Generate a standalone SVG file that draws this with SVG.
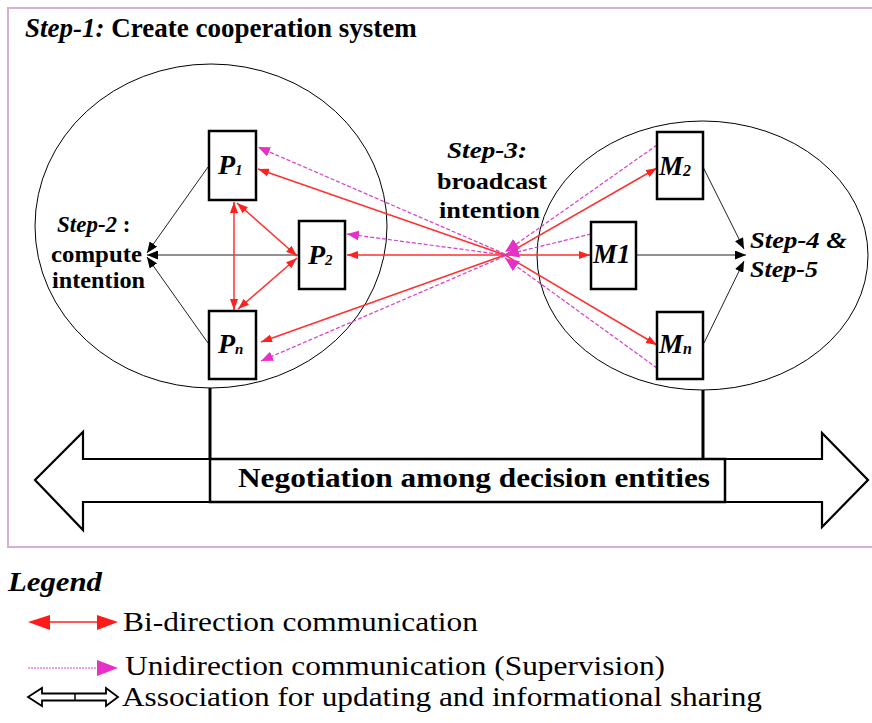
<svg xmlns="http://www.w3.org/2000/svg" width="872" height="723" viewBox="0 0 872 723">
<defs>
<style>
text{font-family:'Liberation Serif','Times New Roman','DejaVu Serif',serif;fill:#000}
.b{font-weight:bold}
.bi{font-weight:bold;font-style:italic}
.box{fill:#fff;stroke:#000;stroke-width:2.5}
.ell{fill:none;stroke:#000;stroke-width:1}
.blk{stroke:#222;stroke-width:1;fill:none}
.red{stroke:#ff3030;stroke-width:1.5;fill:none}
.mag{stroke:#d83cc8;stroke-width:1.2;stroke-dasharray:4 2;fill:none}
</style>
<marker id="rh" markerUnits="userSpaceOnUse" markerWidth="11" markerHeight="8" refX="11" refY="4" orient="auto-start-reverse"><path d="M0,0 L11,4 L0,8 z" fill="#ff2020"/></marker>
<marker id="mh" markerUnits="userSpaceOnUse" markerWidth="12" markerHeight="10" refX="12" refY="5" orient="auto"><path d="M0,0 L12,5 L0,10 z" fill="#e630c8"/></marker>
<marker id="mh2" markerUnits="userSpaceOnUse" markerWidth="14" markerHeight="12" refX="14" refY="6" orient="auto"><path d="M0,0 L14,6 L0,12 z" fill="#e630c8"/></marker>
<marker id="bh" markerUnits="userSpaceOnUse" markerWidth="11" markerHeight="9" refX="11" refY="4.5" orient="auto"><path d="M0,0 L11,4.5 L0,9 z" fill="#000"/></marker>
</defs>
<rect x="0" y="0" width="872" height="723" fill="#fff"/>
<rect id="frame" x="8" y="8" width="880" height="539" fill="none" stroke="#d4b0d4" stroke-width="2"/>
<g font-family="Liberation Serif, Times New Roman, serif">
<text x="25" y="37" font-size="27"><tspan class="bi">Step-1:</tspan><tspan class="b"> Create cooperation system</tspan></text>

<g id="groupP">
<ellipse class="ell" cx="211" cy="226" rx="176" ry="162"/>
</g>
<g id="groupM">
<ellipse class="ell" cx="702.5" cy="255.5" rx="165.5" ry="134.5"/>
</g>

<g id="connectors">
<path class="blk" d="M208,167 L147,253" marker-end="url(#bh)"/>
<path class="blk" d="M299,255 L147,255" marker-end="url(#bh)"/>
<path class="blk" d="M208,343 L147,257" marker-end="url(#bh)"/>
<path class="blk" d="M703,167 L744,249" marker-end="url(#bh)"/>
<path class="blk" d="M636,255 L746,255" marker-end="url(#bh)"/>
<path class="blk" d="M704,343 L744,261" marker-end="url(#bh)"/>
<path class="red" d="M234,202 L234,310" marker-start="url(#rh)" marker-end="url(#rh)"/>
<path class="red" d="M237,203 L297,256" marker-start="url(#rh)" marker-end="url(#rh)"/>
<path class="red" d="M297,258 L238,309" marker-start="url(#rh)" marker-end="url(#rh)"/>
<path class="red" d="M505,255 L258,169" marker-end="url(#rh)"/>
<path class="red" d="M505,255 L347,255" marker-end="url(#rh)"/>
<path class="red" d="M505,255 L261,342" marker-end="url(#rh)"/>
<path class="red" d="M505,255 L657,168" marker-end="url(#rh)"/>
<path class="red" d="M505,255 L590,255" marker-end="url(#rh)"/>
<path class="red" d="M505,255 L657,345" marker-end="url(#rh)"/>
<path class="mag" d="M505,254 L258,147" marker-end="url(#mh)"/>
<path class="mag" d="M505,255 L347,234" marker-end="url(#mh)"/>
<path class="mag" d="M505,256 L261,361" marker-end="url(#mh)"/>
<path class="mag" d="M657,145 L505,252" marker-end="url(#mh2)"/>
<path class="mag" d="M591,234 L505,255" marker-end="url(#mh2)"/>
<path class="mag" d="M657,368 L505,258" marker-end="url(#mh2)"/>
<path d="M210,388 L210,459" stroke="#000" stroke-width="3" fill="none"/>
<path d="M703,390 L703,459" stroke="#000" stroke-width="3" fill="none"/>
</g>

<g id="P1"><rect class="box" x="209" y="131" width="47" height="69"/><text class="bi" x="218" y="174" font-size="28">P<tspan font-size="15" dy="1">1</tspan></text></g>
<g id="P2"><rect class="box" x="299" y="221" width="46" height="68"/><text class="bi" x="308" y="264" font-size="28">P<tspan font-size="15" dy="1">2</tspan></text></g>
<g id="Pn"><rect class="box" x="209" y="311" width="47" height="68"/><text class="bi" x="218" y="353" font-size="28">P<tspan font-size="15" dy="1">n</tspan></text></g>
<g id="M2"><rect class="box" x="657" y="132" width="46" height="67"/><text class="bi" x="659" y="175" font-size="27">M<tspan font-size="16" dy="1">2</tspan></text></g>
<g id="M1"><rect class="box" x="591" y="222" width="45" height="67"/><text class="bi" x="593" y="263" font-size="27">M1</text></g>
<g id="Mn"><rect class="box" x="657" y="312" width="46" height="67"/><text class="bi" x="659" y="353" font-size="27">M<tspan font-size="16" dy="1">n</tspan></text></g>

<g id="step2">
<text x="57" y="232" font-size="23"><tspan class="bi">Step-2</tspan><tspan class="b"> :</tspan></text>
<text class="b" x="51" y="262" font-size="23" textLength="91" lengthAdjust="spacingAndGlyphs">compute</text>
<text class="b" x="52" y="288" font-size="23" textLength="93" lengthAdjust="spacingAndGlyphs">intention</text>
</g>
<g id="step3">
<text class="bi" x="447" y="158" font-size="24" textLength="80" lengthAdjust="spacingAndGlyphs">Step-3:</text>
<text class="b" x="437" y="189" font-size="24" textLength="110" lengthAdjust="spacingAndGlyphs">broadcast</text>
<text class="b" x="439" y="218" font-size="24" textLength="101" lengthAdjust="spacingAndGlyphs">intention</text>
</g>
<g id="step45">
<text class="bi" x="750" y="248" font-size="24" textLength="97" lengthAdjust="spacingAndGlyphs">Step-4 &amp;</text>
<text class="bi" x="750" y="277" font-size="24" textLength="68" lengthAdjust="spacingAndGlyphs">Step-5</text>
</g>

<g id="negotiation">
<polygon points="35,480 83,432 83,459 822,459 822,433 868,480 822,527 822,502 83,502 83,530" fill="#fff" stroke="#000" stroke-width="2.2"/>
<rect x="210" y="459" width="515" height="43" fill="#fff" stroke="#000" stroke-width="2.5"/>
<text class="b" x="238" y="487" font-size="27" textLength="472" lengthAdjust="spacingAndGlyphs">Negotiation among decision entities</text>
</g>

<g id="legend">
<text class="bi" x="8" y="591" font-size="27" textLength="94" lengthAdjust="spacingAndGlyphs">Legend</text>
<line x1="45" y1="622" x2="102" y2="622" stroke="#ff2020" stroke-width="1.5"/>
<polygon points="28,622 50,615 50,630" fill="#ff1a1a"/>
<polygon points="118,622 97,615 97,630" fill="#ff1a1a"/>
<text x="123" y="631" font-size="28" textLength="355" lengthAdjust="spacingAndGlyphs">Bi-direction communication</text>
<line x1="28" y1="668" x2="98" y2="668" stroke="#ec80dc" stroke-width="1.5" stroke-dasharray="2 1"/>
<polygon points="118,668 97,660 97,676" fill="#e830c8"/>
<text x="125" y="675" font-size="28" textLength="540" lengthAdjust="spacingAndGlyphs">Unidirection communication (Supervision)</text>
<polygon points="28,697 42,688 42,693.5 106,693.5 106,688 118,697 106,706 106,700.5 42,700.5 42,706" fill="#fff" stroke="#000" stroke-width="1.8"/>
<line x1="75" y1="693.5" x2="75" y2="700.5" stroke="#000" stroke-width="1.5"/>
<text x="122" y="706" font-size="28" textLength="640" lengthAdjust="spacingAndGlyphs">Association for updating and informational sharing</text>
</g>
</g>
</svg>
